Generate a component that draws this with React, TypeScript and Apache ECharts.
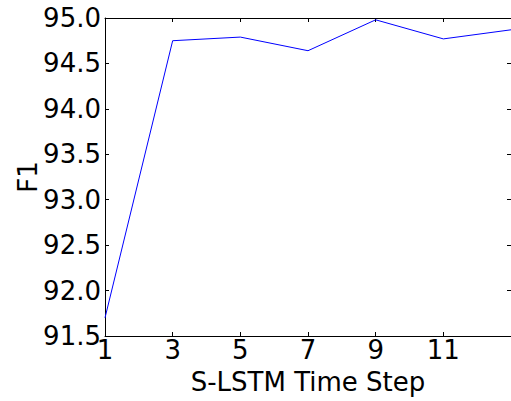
import React, { useEffect, useRef } from "react";
import * as echarts from "echarts";

const steps = [1, 3, 5, 7, 9, 11, 13];
const f1Values = [91.7, 94.75, 94.79, 94.64, 94.98, 94.77, 94.87];
const xTicks = [1, 3, 5, 7, 9, 11];

export default function App() {
  const ref = useRef<HTMLDivElement>(null);
  useEffect(() => {
    if (!ref.current) return;
    const chart = echarts.init(ref.current, null, { renderer: "svg" });
    const font = "DejaVu Sans";
    const axisCommon = {
      axisLine: { show: true, lineStyle: { color: "#000", width: 1 } },
      axisTick: { show: true, inside: true, length: 4, lineStyle: { color: "#000" } },
      splitLine: { show: false },
    };
    chart.setOption({
      animation: false,
      grid: { left: 105, right: -3, top: 18, bottom: 65, show: false },
      xAxis: [
        {
          type: "value",
          min: 1,
          max: 13,
          interval: 2,
          position: "bottom",
          name: "S-LSTM Time Step",
          nameLocation: "middle",
          nameGap: 33,
          nameMoveOverlap: false,
          nameTextStyle: { fontFamily: font, fontSize: 26, color: "#000" },
          ...axisCommon,
          axisLabel: {
            fontFamily: font,
            fontSize: 26,
            color: "#000",
            margin: 1,
            showMaxLabel: false,
            formatter: (v: number) => (xTicks.includes(v) ? String(v) : ""),
          },
        },
        {
          type: "value",
          min: 1,
          max: 13,
          interval: 2,
          position: "top",
          ...axisCommon,
          axisLabel: { show: false },
        },
      ],
      yAxis: [
        {
          type: "value",
          min: 91.5,
          max: 95,
          interval: 0.5,
          position: "left",
          name: "F1",
          nameLocation: "middle",
          nameGap: 64,
          nameMoveOverlap: false,
          nameTextStyle: { fontFamily: font, fontSize: 26, color: "#000" },
          ...axisCommon,
          axisLabel: {
            fontFamily: font,
            fontSize: 26,
            color: "#000",
            margin: 4,
            formatter: (v: number) => v.toFixed(1),
          },
        },
        {
          type: "value",
          min: 91.5,
          max: 95,
          interval: 0.5,
          position: "right",
          ...axisCommon,
          axisLabel: { show: false },
        },
      ],
      series: [
        {
          type: "line",
          data: steps.map((s, i) => [s, f1Values[i]]),
          showSymbol: false,
          lineStyle: { color: "#0000ff", width: 1 },
          clip: false,
        },
      ],
    });
    return () => chart.dispose();
  }, []);
  return (
    <div
      ref={ref}
      style={{ position: "absolute", left: 0, top: 0, width: 511, height: 401 }}
    />
  );
}
